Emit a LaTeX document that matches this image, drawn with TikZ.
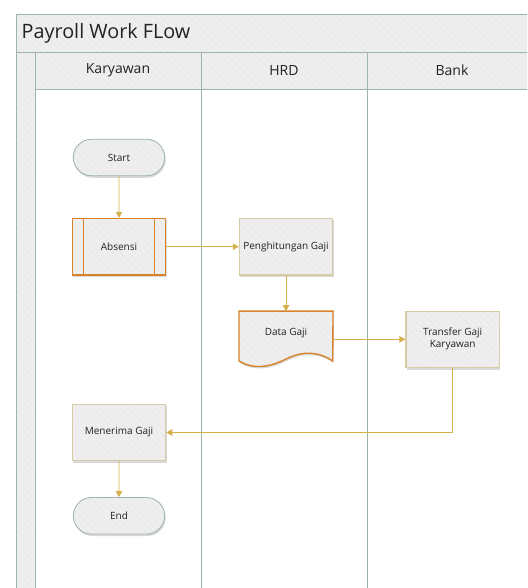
\documentclass[tikz,border=0pt]{standalone}
\usepackage{fontspec}
\setmainfont{Open Sans}
\usetikzlibrary{arrows.meta,shapes.misc,shadows,patterns.meta}

\definecolor{laneline}{HTML}{9DB3AB}
\definecolor{bandfill}{HTML}{ECECEC}
\definecolor{hatch}{HTML}{F4F4F4}
\definecolor{flow}{HTML}{D6B04A}
\definecolor{accent}{HTML}{D8832C}
\definecolor{sand}{HTML}{D5CBA5}
\definecolor{txt}{HTML}{222222}

\tikzset{
  band/.style={preaction={fill=bandfill}, preaction={pattern={Lines[angle=-45,distance=5pt,line width=0.7pt]}, pattern color=hatch}},
  boxshadow/.style={drop shadow={shadow xshift=1pt, shadow yshift=-2pt, opacity=0.15, fill=black}},
  basebox/.style={boxshadow, band, minimum width=93.4pt, text=txt, font=\fontsize{10}{12}\selectfont, align=center, inner sep=1pt},
  terminal/.style={basebox, rounded rectangle, draw=laneline, line width=0.8pt, minimum height=36.5pt},
  procbox/.style={basebox, rectangle, draw=sand, line width=1.1pt, minimum height=56.5pt},
  subproc/.style={basebox, rectangle, draw=accent, line width=1.4pt, minimum height=56.5pt},
  docbox/.style={minimum width=93.7pt, minimum height=56pt, inner sep=0pt},
  flowline/.style={draw=flow, line width=0.9pt, -{Triangle[length=6pt,width=6.5pt]}},
  hdr/.style={text=txt, font=\fontsize{14}{16}\selectfont},
  poolline/.style={laneline, line width=0.9pt},
  sideline/.style={draw=accent, line width=1.5pt},
}

\begin{document}
\begin{tikzpicture}[x=1pt, y=-1pt]
\useasboundingbox (0,0) rectangle (527,588);
\clip (0,0) rectangle (527,588);
\fill[white] (0,0) rectangle (527,588);

% pool frame: title band, lane header band and left strip
\path[band] (16.5,14) rectangle (540,52);
\path[band] (35,52) rectangle (540,89);
\path[band] (16.5,52) rectangle (35,600);
\draw[poolline] (540,14) -- (16.5,14) -- (16.5,600);
\draw[poolline] (16.5,52) -- (540,52);
\draw[poolline] (35,89) -- (540,89);
\draw[poolline] (35,52) -- (35,600);
\draw[poolline] (201,52) -- (201,600);
\draw[poolline] (367,52) -- (367,600);

\node[anchor=west, text=txt, font=\fontsize{19.8}{22}\selectfont, inner sep=0pt] (title) at (21.5,33) {Payroll Work FLow};
\node[hdr] (l1) at (118,70.5) {Karyawan};
\node[hdr] (l2) at (284,70.5) {HRD};
\node[hdr] (l3) at (452,70.5) {Bank};

% flow steps
\node[terminal] (start) at (119,157.5) {Start};
\node[subproc] (abs) at (119,246.7) {Absensi};
% the two inner bars of the predefined-process box
\draw[sideline] ([xshift=-35.5pt]abs.north) -- ([xshift=-35.5pt]abs.south);
\draw[sideline] ([xshift=35.5pt]abs.north) -- ([xshift=35.5pt]abs.south);
\node[procbox] (hit) at (286,246.7) {Penghitungan Gaji};
\node[docbox] (dg) at (286,339.3) {};
\path[boxshadow, band, draw=accent, line width=1.4pt]
  (dg.north west) -- (dg.north east) -- (332.7,361)
  .. controls (318,351) and (302,351) .. (286,359)
  .. controls (270,367) and (254,370) .. (239,361) -- cycle;
\node[text=txt, font=\fontsize{10}{12}\selectfont] (dgt) at (286,332.7) {Data Gaji};
\node[procbox] (tf) at (452.7,339.3) {Transfer Gaji\\Karyawan};
\node[procbox] (mg) at (119,432.5) {Menerima Gaji};
\node[terminal] (end) at (119,515.8) {End};

% connectors
\draw[flowline] (start) -- (abs);
\draw[flowline] (abs) -- (hit);
\draw[flowline] (hit) -- (dg);
\draw[flowline] (dg) -- (tf);
\draw[flowline] (tf.south) |- (mg.east);
\draw[flowline] (mg) -- (end);
\end{tikzpicture}
\end{document}
